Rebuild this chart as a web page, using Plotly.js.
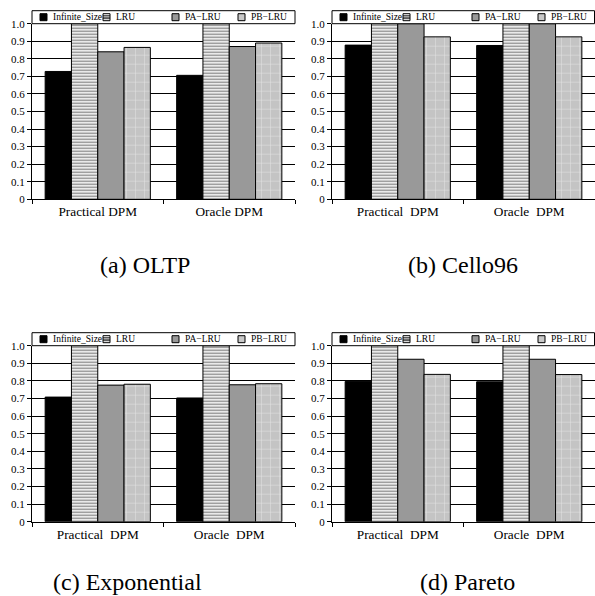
<!DOCTYPE html>
<html>
<head>
<meta charset="utf-8">
<script src="https://cdn.plot.ly/plotly-3.0.1.min.js"></script>
<style>html,body{margin:0;padding:0;background:#fff}#c{width:595px;height:596px}</style>
</head>
<body>
<div id="c"></div>
<script>
// ---- data ----
const seriesNames = ["Infinite_Size", "LRU", "PA\u2212LRU", "PB\u2212LRU"];
const categoriesA = ["Practical DPM", "Oracle DPM"];
const categoriesB = ["Practical  DPM", "Oracle  DPM"];
const captions = ["(a) OLTP", "(b) Cello96", "(c) Exponential", "(d) Pareto"];
const yTickVals = [0, 0.1, 0.2, 0.3, 0.4, 0.5, 0.6, 0.7, 0.8, 0.9, 1.0];
const yTickText = ["0", "0.1", "0.2", "0.3", "0.4", "0.5", "0.6", "0.7", "0.8", "0.9", "1.0"];

// values per panel: [Practical, Oracle]
const oltpInfinite = [0.728, 0.706];
const oltpLRU      = [1.0, 1.0];
const oltpPA       = [0.840, 0.870];
const oltpPB       = [0.865, 0.890];

const celloInfinite = [0.878, 0.876];
const celloLRU      = [1.0, 1.0];
const celloPA       = [1.0, 1.0];
const celloPB       = [0.925, 0.925];

const expInfinite = [0.708, 0.703];
const expLRU      = [1.0, 1.0];
const expPA       = [0.776, 0.778];
const expPB       = [0.781, 0.784];

const paretoInfinite = [0.797, 0.795];
const paretoLRU      = [1.0, 1.0];
const paretoPA       = [0.923, 0.923];
const paretoPB       = [0.837, 0.836];

// ---- styles ----
const FONT = "'Liberation Serif', 'Times New Roman', serif";
const styles = [
  {color: "#000000", pattern: {shape: ""}},
  {color: "#ffffff", pattern: {shape: "-", fgcolor: "#000000", bgcolor: "#ffffff", size: 3, solidity: 0.45, fillmode: "overlay"}},
  {color: "#999999", pattern: {shape: ""}},
  {color: "#cccccc", pattern: {shape: "+", fgcolor: "#ffffff", bgcolor: "#c4c4c4", size: 9, solidity: 0.12, fillmode: "overlay"}}
];

const panels = [
  {vals: [oltpInfinite, oltpLRU, oltpPA, oltpPB], cats: categoriesA},
  {vals: [celloInfinite, celloLRU, celloPA, celloPB], cats: categoriesB},
  {vals: [expInfinite, expLRU, expPA, expPB], cats: categoriesB},
  {vals: [paretoInfinite, paretoLRU, paretoPA, paretoPB], cats: categoriesB}
];

const W = 595, H = 596;
const px = v => v / W;
const py = v => 1 - v / H;
// panel geometry in pixels: [x0, x1, yTop(1.0), yBottom(0)]
const geo = [
  [32, 295, 23.7, 199.3],
  [332, 595, 23.7, 199.3],
  [32, 295, 345.7, 521.7],
  [332, 595, 345.7, 521.7]
];
const captionPos = [[145, 265], [463, 265], [127, 582], [467, 582]];

const traces = [];
const layout = {
  width: W, height: H,
  margin: {l: 0, r: 0, t: 0, b: 0},
  paper_bgcolor: "#ffffff",
  plot_bgcolor: "#ffffff",
  barmode: "group",
  bargap: 0.2,
  bargroupgap: 0,
  showlegend: false,
  font: {family: FONT, color: "#000"},
  shapes: [],
  annotations: []
};

panels.forEach((p, i) => {
  const n = i + 1;
  const xa = n === 1 ? "x" : "x" + n;
  const ya = n === 1 ? "y" : "y" + n;
  p.vals.forEach((v, s) => {
    traces.push({
      type: "bar",
      x: p.cats,
      y: v,
      name: seriesNames[s],
      xaxis: xa, yaxis: ya,
      marker: {color: styles[s].color, pattern: styles[s].pattern, line: {color: "#000", width: 1}},
      hoverinfo: "skip"
    });
  });
  const g = geo[i];
  layout[n === 1 ? "xaxis" : "xaxis" + n] = {
    domain: [px(g[0]), Math.min(1, px(g[1]))],
    anchor: ya,
    type: "category",
    showline: true, linecolor: "#000", linewidth: 1,
    ticks: "outside", ticklen: 4, tickcolor: "#000", tickson: "boundaries",
    tickfont: {size: 13.3, family: FONT, color: "#000"},
    showgrid: false, zeroline: false, fixedrange: true
  };
  layout[n === 1 ? "yaxis" : "yaxis" + n] = {
    domain: [py(g[3]), py(g[2])],
    anchor: xa,
    range: [0, 1.0],
    tickvals: yTickVals, ticktext: yTickText,
    showline: true, linecolor: "#000", linewidth: 1,
    ticks: "outside", ticklen: 4, tickcolor: "#000",
    tickfont: {size: 11, family: FONT, color: "#000"},
    showgrid: true, gridcolor: "#000", gridwidth: 1,
    zeroline: false, fixedrange: true
  };

  // legend box
  const lt = g[2] - 13, lb = g[2];
  layout.shapes.push({type: "rect", xref: "paper", yref: "paper",
    x0: px(g[0]), x1: px(Math.min(g[1], 594.5)), y0: py(lb), y1: py(lt),
    line: {color: "#000", width: 1}, fillcolor: "#fff", layer: "above"});
  const ly = (lt + lb) / 2;
  const items = [[8, 0], [71, 1], [140, 2], [206, 3]];
  items.forEach(([dx, s]) => {
    const sx = g[0] + dx;
    const fill = s === 0 ? "#000" : s === 1 ? "#fff" : s === 2 ? "#999" : "#c8c8c8";
    layout.shapes.push({type: "rect", xref: "paper", yref: "paper",
      x0: px(sx), x1: px(sx + 7), y0: py(ly + 3.5), y1: py(ly - 3.5),
      line: {color: "#000", width: 1}, fillcolor: fill, layer: "above"});
    if (s === 1) {
      [-1.5, 0, 1.5].forEach(o => layout.shapes.push({type: "line", xref: "paper", yref: "paper",
        x0: px(sx), x1: px(sx + 7), y0: py(ly + o), y1: py(ly + o),
        line: {color: "#000", width: 0.8}, layer: "above"}));
    }
    layout.annotations.push({xref: "paper", yref: "paper",
      x: px(sx + 11), y: py(ly), xanchor: "left", yanchor: "middle",
      text: seriesNames[s], showarrow: false,
      font: {size: 9.5, family: FONT, color: "#000"}});
  });

  // caption
  layout.annotations.push({xref: "paper", yref: "paper",
    x: px(captionPos[i][0]), y: py(captionPos[i][1]), xanchor: "center", yanchor: "middle",
    text: captions[i], showarrow: false,
    font: {size: 24, family: FONT, color: "#000"}});
});

Plotly.newPlot("c", traces, layout, {displayModeBar: false, staticPlot: true});
</script>
</body>
</html>
